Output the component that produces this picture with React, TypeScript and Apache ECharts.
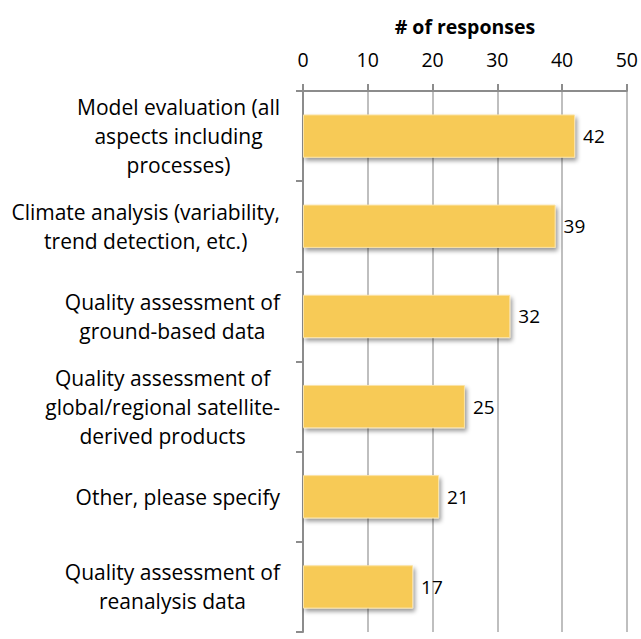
import React, { useEffect, useRef } from "react";
import * as echarts from "echarts";

const categories = [
  "Model evaluation (all\naspects including\nprocesses)",
  "Climate analysis (variability,\ntrend detection, etc.)",
  "Quality assessment of\nground-based data",
  "Quality assessment of\nglobal/regional satellite-\nderived products",
  "Other, please specify",
  "Quality assessment of\nreanalysis data",
];
const responses = [42, 39, 32, 25, 21, 17];
const axisTitle = "# of responses";

const FONT = "Open Sans";

export default function App() {
  const ref = useRef<HTMLDivElement>(null);
  useEffect(() => {
    if (!ref.current) return;
    const chart = echarts.init(ref.current, null, { renderer: "svg" });
    chart.setOption({
      animation: false,
      grid: { left: 303, right: 13, top: 91, bottom: 7, containLabel: false },
      xAxis: {
        type: "value",
        position: "top",
        min: 0,
        max: 50,
        interval: 10,
        name: axisTitle,
        nameLocation: "middle",
        nameGap: 55,
        nameTextStyle: { fontFamily: FONT, fontWeight: "bold", fontSize: 19.5, color: "#000" },
        axisLine: { show: true, lineStyle: { color: "#8c8c8c", width: 2 } },
        axisTick: { show: true, length: 7, lineStyle: { color: "#8c8c8c", width: 2 } },
        axisLabel: { fontFamily: FONT, fontSize: 19.5, color: "#000", margin: 22 },
        splitLine: { show: true, lineStyle: { color: "#bfbfbf", width: 2 } },
      },
      yAxis: {
        type: "category",
        data: categories,
        inverse: true,
        axisLine: { show: true, lineStyle: { color: "#8c8c8c", width: 2 } },
        axisTick: { show: true, length: 7, lineStyle: { color: "#8c8c8c", width: 2 } },
        axisLabel: {
          margin: 23,
          align: "right",
          formatter: (v: string) =>
            v
              .split("\n")
              .map((l) => `{c|${l}}`)
              .join("\n"),
          rich: {
            c: {
              fontFamily: FONT,
              fontSize: 21,
              color: "#000",
              lineHeight: 29,
              align: "center",
            },
          },
        },
        splitLine: { show: false },
      },
      series: [
        {
          type: "bar",
          data: responses,
          barWidth: "48%",
          itemStyle: {
            color: "#f7ca56",
            borderColor: "#fbe3a6",
            borderWidth: 1,
            shadowColor: "rgba(0,0,0,0.4)",
            shadowBlur: 4,
            shadowOffsetX: 2,
            shadowOffsetY: 3,
          },
          label: {
            show: true,
            position: "right",
            distance: 8,
            fontFamily: FONT,
            fontSize: 19,
            color: "#000",
          },
        },
      ],
    });
    return () => chart.dispose();
  }, []);
  return <div ref={ref} style={{ width: 641, height: 639, position: "absolute", left: 0, top: 0 }} />;
}
